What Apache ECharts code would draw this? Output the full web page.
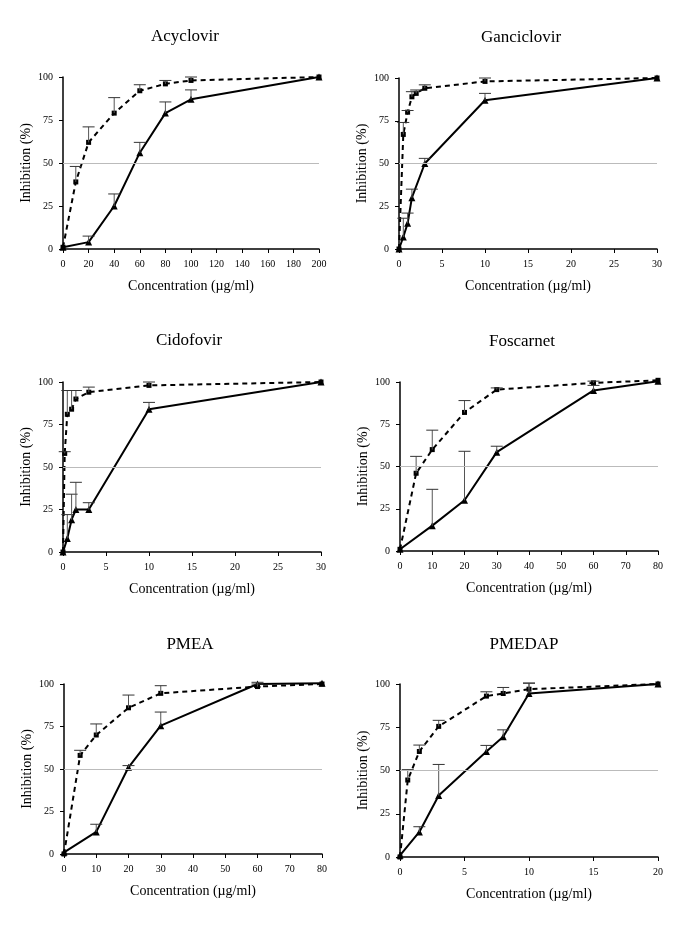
<!DOCTYPE html>
<html><head><meta charset="utf-8">
<script src="https://cdn.jsdelivr.net/npm/echarts@6/dist/echarts.min.js"></script>
<style>html,body{margin:0;padding:0;background:#fff}#c{width:685px;height:931px}</style>
</head><body><div id="c"></div>
<script>
// ---------- data ----------
const titles = ['Acyclovir', 'Ganciclovir', 'Cidofovir', 'Foscarnet', 'PMEA', 'PMEDAP'];
const xAxisName = 'Concentration (µg/ml)';
const yAxisName = 'Inhibition (%)';
const xMaxes = [200, 30, 30, 80, 80, 20];
const xSteps = [20, 5, 5, 10, 10, 5];
const yMin = 0, yMax = 100, yStep = 25;
const refLevel = 50;

// Acyclovir
const acyDashX   = [0, 10, 20, 40, 60, 80, 100, 200];
const acyDashY   = [1, 39, 62, 79, 92, 96, 98, 100];
const acyDashErr = [null, 48, 71, 88, 95.5, 98, 100, null];
const acySolX    = [0, 20, 40, 60, 80, 100, 200];
const acySolY    = [1, 4, 25, 56, 79, 87, 100];
const acySolErr  = [null, 7.5, 32, 62, 85.5, 92.5, null];

// Ganciclovir
const ganDashX   = [0, 0.5, 1, 1.5, 2, 3, 10, 30];
const ganDashY   = [0, 67, 80, 89, 91, 94, 98, 100];
const ganDashErr = [null, 74, 81, 92, 93, 96, 100, null];
const ganSolX    = [0, 0.5, 1, 1.5, 3, 10, 30];
const ganSolY    = [0, 7, 15, 30, 50, 87, 100];
const ganSolErr  = [null, 18, 21, 35, 53, 91, null];

// Cidofovir
const cidDashX   = [0, 0.2, 0.5, 1, 1.5, 3, 10, 30];
const cidDashY   = [0, 58, 81, 84, 90, 94, 98, 100];
const cidDashErr = [null, 59, 95, 95, 95, 97, 100, null];
const cidSolX    = [0, 0.5, 1, 1.5, 3, 10, 30];
const cidSolY    = [0, 8, 19, 25, 25, 84, 100];
const cidSolErr  = [null, 22, 34, 41, 29, 88, null];

// Foscarnet
const fosDashX   = [0, 5, 10, 20, 30, 60, 80];
const fosDashY   = [1, 46, 60, 82, 95.5, 99.5, 101];
const fosDashErr = [null, 56, 71.5, 89, 96.5, 100.5, null];
const fosSolX    = [0, 10, 20, 30, 60, 80];
const fosSolY    = [1, 15, 30, 58.5, 95, 100.5];
const fosSolErr  = [null, 36.5, 59, 62, 98, null];

// PMEA
const pmeaDashX   = [0, 5, 10, 20, 30, 60, 80];
const pmeaDashY   = [0, 58, 70, 86, 94.5, 98.5, 100];
const pmeaDashErr = [null, 61, 76.5, 93.5, 99, 100, null];
const pmeaSolX    = [0, 10, 20, 30, 60, 80];
const pmeaSolY    = [1, 13, 51, 75.5, 100, 100.5];
const pmeaSolErr  = [null, 17.5, 52, 83.5, 101, null];

// PMEDAP
const pmedDashX   = [0, 0.6, 1.5, 3, 6.7, 8, 10, 20];
const pmedDashY   = [0, 44.5, 61, 75.5, 93, 94.5, 97, 100];
const pmedDashErr = [null, 50.5, 64.7, 79, 95.5, 98, 100.5, null];
const pmedSolX    = [0, 1.5, 3, 6.7, 8, 10, 20];
const pmedSolY    = [1, 14.5, 35.5, 61, 69.5, 94.5, 100];
const pmedSolErr  = [null, 17.5, 53.5, 64.5, 73.5, 100.5, null];

const panels = [
  [acyDashX, acyDashY, acyDashErr, acySolX, acySolY, acySolErr],
  [ganDashX, ganDashY, ganDashErr, ganSolX, ganSolY, ganSolErr],
  [cidDashX, cidDashY, cidDashErr, cidSolX, cidSolY, cidSolErr],
  [fosDashX, fosDashY, fosDashErr, fosSolX, fosSolY, fosSolErr],
  [pmeaDashX, pmeaDashY, pmeaDashErr, pmeaSolX, pmeaSolY, pmeaSolErr],
  [pmedDashX, pmedDashY, pmedDashErr, pmedSolX, pmedSolY, pmedSolErr]
];

// ---------- layout ----------
const gridBoxes = [
  {left: 63, top: 77, width: 256, height: 172},
  {left: 399, top: 78, width: 258, height: 171},
  {left: 63, top: 382, width: 258, height: 170},
  {left: 400, top: 382, width: 258, height: 169},
  {left: 64, top: 684, width: 258, height: 170},
  {left: 400, top: 684, width: 258, height: 173}
];
const titlePos = [[185, 37], [521, 38], [189, 341], [522, 342], [190, 645], [524, 645]];

const FONT = '"Liberation Serif", "DejaVu Serif", serif';

function zip(xs, ys) { return xs.map((x, i) => [x, ys[i]]); }
function zipErr(xs, ys, es) {
  const out = [];
  xs.forEach((x, i) => { if (es[i] != null) out.push([x, ys[i], es[i]]); });
  return out;
}
function renderErr(params, api) {
  const x = api.value(0), y = api.value(1), t = api.value(2);
  const p0 = api.coord([x, y]);
  const p1 = api.coord([x, t]);
  const w = 6;
  return {
    type: 'group',
    children: [
      {type: 'line', shape: {x1: p0[0], y1: p0[1], x2: p1[0], y2: p1[1]}, style: {stroke: '#555', lineWidth: 1}},
      {type: 'line', shape: {x1: p1[0] - w, y1: p1[1], x2: p1[0] + w, y2: p1[1]}, style: {stroke: '#333', lineWidth: 1}}
    ]
  };
}

const grid = [], xAxis = [], yAxis = [], series = [], graphic = [];
panels.forEach((p, i) => {
  grid.push(Object.assign({containLabel: false}, gridBoxes[i]));
  xAxis.push({
    type: 'value', gridIndex: i, min: 0, max: xMaxes[i], interval: xSteps[i],
    name: xAxisName, nameLocation: 'middle', nameGap: 30,
    nameTextStyle: {fontFamily: FONT, fontSize: 14, color: '#000'},
    axisLine: {show: true, onZero: false, lineStyle: {color: '#000', width: 1.5}},
    axisTick: {show: true, inside: false, length: 4, lineStyle: {color: '#000'}},
    axisLabel: {fontFamily: FONT, fontSize: 10, color: '#000', margin: 10},
    splitLine: {show: false}
  });
  yAxis.push({
    type: 'value', gridIndex: i, min: yMin, max: yMax, interval: yStep,
    name: yAxisName, nameLocation: 'middle', nameGap: 30,
    nameTextStyle: {fontFamily: FONT, fontSize: 14, color: '#000'},
    axisLine: {show: true, onZero: false, lineStyle: {color: '#000', width: 1.5}},
    axisTick: {show: true, inside: false, length: 4, lineStyle: {color: '#000'}},
    axisLabel: {fontFamily: FONT, fontSize: 10, color: '#000', margin: 10},
    splitLine: {show: false}
  });
  const [dx, dy, de, sx, sy, se] = p;
  series.push({
    type: 'line', xAxisIndex: i, yAxisIndex: i, data: zip(dx, dy), clip: false,
    symbol: 'rect', symbolSize: 5, itemStyle: {color: '#000'},
    lineStyle: {color: '#000', width: 2, type: [5, 4]}, z: 3,
    markLine: {
      silent: true, symbol: ['none', 'none'], label: {show: false},
      lineStyle: {color: '#bbb', width: 1, type: 'solid'},
      data: [{yAxis: refLevel}]
    }
  });
  series.push({
    type: 'line', xAxisIndex: i, yAxisIndex: i, data: zip(sx, sy), clip: false,
    symbol: 'triangle', symbolSize: 7, itemStyle: {color: '#000'},
    lineStyle: {color: '#000', width: 2, type: 'solid'}, z: 3
  });
  series.push({
    type: 'custom', xAxisIndex: i, yAxisIndex: i, data: zipErr(dx, dy, de),
    renderItem: renderErr, encode: {x: 0, y: [1, 2]}, clip: false, z: 4
  });
  series.push({
    type: 'custom', xAxisIndex: i, yAxisIndex: i, data: zipErr(sx, sy, se),
    renderItem: renderErr, encode: {x: 0, y: [1, 2]}, clip: false, z: 4
  });
  graphic.push({
    type: 'text', x: titlePos[i][0], y: titlePos[i][1],
    style: {text: titles[i], font: '17px ' + FONT, fill: '#000', textAlign: 'center', textVerticalAlign: 'middle'}
  });
});

const chart = echarts.init(document.getElementById('c'), null, {renderer: 'canvas'});
chart.setOption({
  animation: false,
  backgroundColor: '#fff',
  grid, xAxis, yAxis, series, graphic
});
</script>
</body></html>
